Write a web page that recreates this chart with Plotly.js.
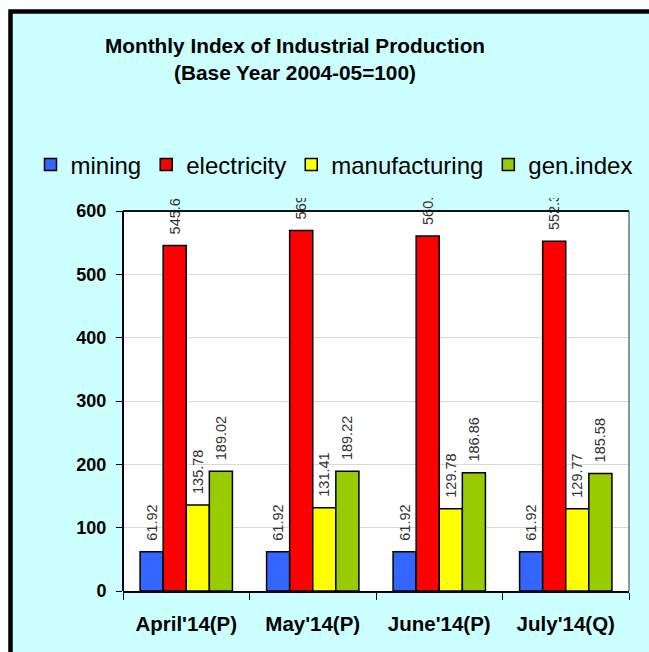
<!DOCTYPE html>
<html>
<head>
<meta charset="utf-8">
<script src="https://cdn.plot.ly/plotly-3.0.1.min.js"></script>
<style>
  html, body { margin: 0; padding: 0; background: #ffffff; }
  #chart { width: 649px; height: 652px; }
</style>
</head>
<body>
<div id="chart"></div>
<script>
// ---- data ----
const categories = ["April'14(P)", "May'14(P)", "June'14(P)", "July'14(Q)"];
const seriesNames = ["mining", "electricity", "manufacturing", "gen.index"];
const mining = [61.92, 61.92, 61.92, 61.92];
const electricity = [545.62, 569.25, 560.45, 552.36];
const manufacturing = [135.78, 131.41, 129.78, 129.77];
const genIndex = [189.02, 189.22, 186.86, 185.58];
const yTickValues = [0, 100, 200, 300, 400, 500, 600];
const titleLines = ["Monthly Index of Industrial Production", "(Base Year 2004-05=100)"];

// ---- styling ----
const FONT = "Liberation Sans, Arial, sans-serif";
const colors = ["#3366FF", "#FF0000", "#FFFF00", "#99CC00"];
const seriesValues = [mining, electricity, manufacturing, genIndex];

// plot-area geometry (pixels)
const W = 649, H = 652;
const plotLeft = 123, plotRight = 629, plotTop = 198, plotBottom = 591;
const yMaxShown = 600;
const pxPerUnit = (591 - 211) / yMaxShown;
const yRangeMax = (plotBottom - plotTop) / pxPerUnit;

const px2x = p => (p - plotLeft) / (plotRight - plotLeft);
const py2y = p => (plotBottom - p) / (plotBottom - plotTop);

const traces = seriesNames.map((name, i) => ({
  type: "bar",
  name: name,
  x: categories,
  y: seriesValues[i],
  marker: { color: colors[i], line: { color: "#000000", width: 1.5 } },
  texttemplate: "\u00a0\u00a0%{y:.2f}",
  textposition: "outside",
  textangle: -90,
  constraintext: "none",
  cliponaxis: true,
  textfont: { family: FONT, size: 14.5, color: "#333333" },
  hoverinfo: "skip"
}));

const layout = {
  width: W,
  height: H,
  margin: { l: plotLeft, r: W - plotRight, t: plotTop, b: H - plotBottom, pad: 0, autoexpand: false },
  paper_bgcolor: "#CCFFFF",
  plot_bgcolor: "#FFFFFF",
  barmode: "group",
  bargap: 0.27,
  bargroupgap: 0,
  showlegend: true,
  title: {
    text: "<b>" + titleLines[0] + "</b><br><b>" + titleLines[1] + "</b>",
    font: { family: FONT, size: 20.8, color: "#000000" },
    xref: "container", x: 295 / W, xanchor: "center",
    yref: "container", y: 1 - 53 / H, yanchor: "top"
  },
  legend: {
    orientation: "h",
    xref: "paper", x: px2x(30.5), xanchor: "left",
    yref: "paper", y: py2y(165), yanchor: "middle",
    font: { family: FONT, size: 24, color: "#000000" },
    bgcolor: "rgba(0,0,0,0)",
    itemwidth: 30,
    traceorder: "normal"
  },
  xaxis: {
    type: "category",
    showgrid: false,
    showline: true, linecolor: "#000000", linewidth: 2,
    ticks: "outside", tickson: "boundaries", ticklen: 7, tickwidth: 1, tickcolor: "#000000",
    tickfont: { family: FONT, size: 20.5, color: "#000000", weight: "bold" },
    ticklabelstandoff: 13,
    fixedrange: true
  },
  yaxis: {
    range: [0, yRangeMax],
    tickmode: "array",
    tickvals: yTickValues,
    ticktext: yTickValues.map(String),
    showgrid: true, gridcolor: "#D9D9D9", gridwidth: 1,
    zeroline: false,
    showline: false,
    ticks: "outside", ticklen: 6, tickwidth: 1, tickcolor: "#000000",
    tickfont: { family: FONT, size: 18, color: "#000000", weight: "bold" },
    ticklabelstandoff: 6,
    fixedrange: true
  },
  shapes: [
    // area above the 600 line, outside the plot frame
    { type: "rect", xref: "paper", yref: "y", x0: 0, x1: 1, y0: yMaxShown, y1: yRangeMax + 5,
      fillcolor: "#CCFFFF", line: { width: 0 }, layer: "below" },
    // plot frame
    { type: "line", xref: "paper", yref: "y", x0: 0, x1: 1, y0: yMaxShown, y1: yMaxShown,
      line: { color: "#111111", width: 2 }, layer: "above" },
    { type: "line", xref: "paper", yref: "y", x0: 0, x1: 0, y0: 0, y1: yMaxShown,
      line: { color: "#000000", width: 2 }, layer: "above" },
    { type: "line", xref: "paper", yref: "y", x0: 1, x1: 1, y0: 0, y1: yMaxShown,
      line: { color: "#333333", width: 1 }, layer: "above" },
    // white margin outside the chart border
    { type: "rect", xref: "paper", yref: "paper", x0: px2x(-20), x1: px2x(8), y0: py2y(700), y1: py2y(-20),
      fillcolor: "#FFFFFF", line: { width: 0 }, layer: "below" },
    { type: "rect", xref: "paper", yref: "paper", x0: px2x(-20), x1: px2x(700), y0: py2y(10), y1: py2y(-20),
      fillcolor: "#FFFFFF", line: { width: 0 }, layer: "below" },
    // black chart border
    { type: "rect", xref: "paper", yref: "paper", x0: px2x(10.5), x1: px2x(720), y0: py2y(720), y1: py2y(11.5),
      fillcolor: "rgba(0,0,0,0)", line: { color: "#000000", width: 4.5 }, layer: "below" }
  ],
  hovermode: false
};

Plotly.newPlot("chart", traces, layout, { staticPlot: true, displayModeBar: false });
</script>
</body>
</html>
